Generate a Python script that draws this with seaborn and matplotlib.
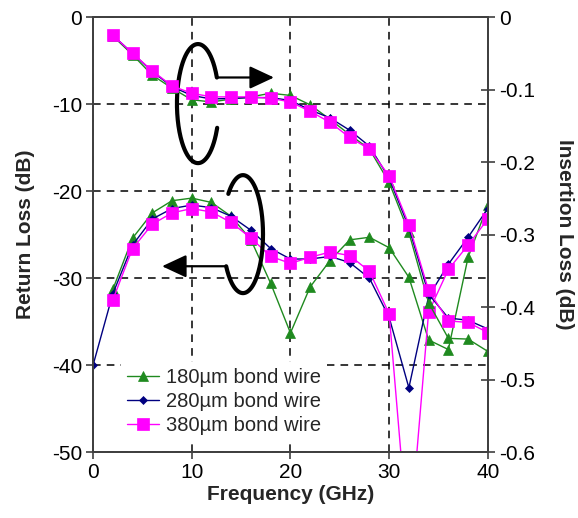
import numpy as np
import pandas as pd
import matplotlib
matplotlib.use('Agg')
import matplotlib.pyplot as plt
import seaborn as sns

# data
freq = [2, 4, 6, 8, 10, 12, 14, 16, 18, 20, 22, 24, 26, 28, 30, 32, 34, 36, 38, 40]
freq_blue = [0] + freq

# return loss (dB), left axis
rl_180 = [-31.3, -25.4, -22.5, -21.1, -20.8, -21.3, -22.9, -25.6, -30.6, -36.3,
          -31.0, -28.0, -25.6, -25.3, -26.5, -29.9, -37.1, -38.2, -27.6, -21.6]
rl_280 = [-40.0, -31.8, -26.2, -23.2, -22.0, -21.6, -21.9, -22.9, -24.5, -26.6, -27.8,
          -27.8, -27.5, -28.2, -30.0, -34.5, -42.6, -32.1, -28.4, -25.3, -22.0]
rl_380 = [-32.5, -26.6, -23.8, -22.5, -22.0, -22.4, -23.6, -25.4, -27.5, -28.3,
          -27.6, -27.0, -27.4, -29.2, -34.1, -61.0, -33.9, -29.0, -26.2, -23.2]

# insertion loss (dB), right axis
il_180 = [-0.026, -0.052, -0.080, -0.098, -0.114, -0.117, -0.113, -0.110, -0.105, -0.108,
          -0.121, -0.141, -0.162, -0.182, -0.228, -0.297, -0.394, -0.443, -0.444, -0.461]
il_280 = [-0.025, -0.050, -0.075, -0.096, -0.108, -0.113, -0.112, -0.111, -0.111, -0.115,
          -0.128, -0.139, -0.156, -0.178, -0.222, -0.290, -0.382, -0.415, -0.418, -0.430]
il_380 = [-0.025, -0.050, -0.074, -0.095, -0.105, -0.110, -0.110, -0.110, -0.112, -0.117,
          -0.130, -0.145, -0.166, -0.182, -0.219, -0.286, -0.377, -0.419, -0.421, -0.435]

labels = ['180\u00b5m bond wire', '280\u00b5m bond wire', '380\u00b5m bond wire']
x_ticks = [0, 10, 20, 30, 40]
rl_ticks = [0, -10, -20, -30, -40, -50]
il_ticks = [0, -0.1, -0.2, -0.3, -0.4, -0.5, -0.6]
il_tick_labels = ['0', '-0.1', '-0.2', '-0.3', '-0.4', '-0.5', '-0.6']

sns.set_theme(style='white')
plt.rcParams['font.family'] = ['Liberation Sans', 'DejaVu Sans']
plt.rcParams['axes.unicode_minus'] = False

green, navy, magenta = '#1f8a1f', '#000080', '#ff00ff'
styles = [(green, '^', 7), (navy, 'D', 4.5), (magenta, 's', 9)]

fig = plt.figure(figsize=(5.78, 5.18), dpi=100)
ax = fig.add_axes([0.161, 0.127, 0.683, 0.840])
ax2 = ax.twinx()

rl_data = [(freq, rl_180), (freq_blue, rl_280), (freq, rl_380)]
il_data = [il_180, il_280, il_380]

handles = []
for (xs, ys), (c, m, ms), lab in zip(rl_data, styles, labels):
    sns.lineplot(x=xs, y=ys, ax=ax, color=c, marker=m, markersize=ms, linewidth=1.0,
                 markeredgecolor=c, markeredgewidth=0.5, label=lab, legend=False)
    handles.append(ax.lines[-1])
for ys, (c, m, ms) in zip(il_data, styles):
    sns.lineplot(x=freq, y=ys, ax=ax2, color=c, marker=m, markersize=ms, linewidth=1.0,
                 markeredgecolor=c, markeredgewidth=0.5, legend=False)

ax.set_xlim(0, 40)
ax.set_ylim(-50, 0)
ax2.set_ylim(-0.6, 0)
ax.set_xticks(x_ticks)
ax.set_yticks(rl_ticks)
ax2.set_yticks(il_ticks)
ax2.set_yticklabels(il_tick_labels)

ax.grid(True, color='black', linestyle=(0, (5, 4)), linewidth=1.1)
ax2.grid(False)

for a in (ax, ax2):
    for s in a.spines.values():
        s.set_color('#404040')
        s.set_linewidth(1.3)
    a.tick_params(direction='inout', length=10, width=1.2, color='#404040',
                  labelsize=15, labelcolor='black', pad=3)
ax.tick_params(axis='y', left=True)
ax.tick_params(axis='x', bottom=True)
ax2.tick_params(axis='y', right=True)

ax.set_xlabel('Frequency (GHz)', fontsize=15, fontweight='bold', labelpad=2)
ax.set_ylabel('Return Loss (dB)', fontsize=15, fontweight='bold', labelpad=12)
ax2.set_ylabel('Insertion Loss (dB)', fontsize=15, fontweight='bold', rotation=270,
               labelpad=28)

# annotation ovals with arrows (left axis data coordinates)
t = np.deg2rad(np.linspace(26, 336, 200))
ax.plot(10.63 + 2.13 * np.cos(t), -9.94 + 6.84 * np.sin(t), color='black', lw=3, solid_capstyle='round')
ax.annotate('', xy=(18.33, -6.94), xytext=(12.54, -6.94),
            arrowprops=dict(arrowstyle='-|>,head_length=0.75,head_width=0.35',
                            mutation_scale=20, lw=1.6, color='black', shrinkA=0, shrinkB=0))
t = np.deg2rad(np.linspace(213, 497, 200))
ax.plot(15.19 + 2.03 * np.cos(t), -24.94 + 6.78 * np.sin(t), color='black', lw=3, solid_capstyle='round')
ax.annotate('', xy=(6.99, -28.63), xytext=(13.49, -28.63),
            arrowprops=dict(arrowstyle='-|>,head_length=0.75,head_width=0.35',
                            mutation_scale=20, lw=1.6, color='black', shrinkA=0, shrinkB=0))

leg = ax2.legend(handles, labels, loc='upper left', bbox_to_anchor=(0.07, 0.207),
                 fontsize=14.5, frameon=True, facecolor='white', edgecolor='none',
                 framealpha=1, fancybox=False, borderpad=0.3, labelspacing=0.25,
                 handlelength=1.6, handletextpad=0.35, borderaxespad=0)

fig.savefig('out.png', dpi=100)
